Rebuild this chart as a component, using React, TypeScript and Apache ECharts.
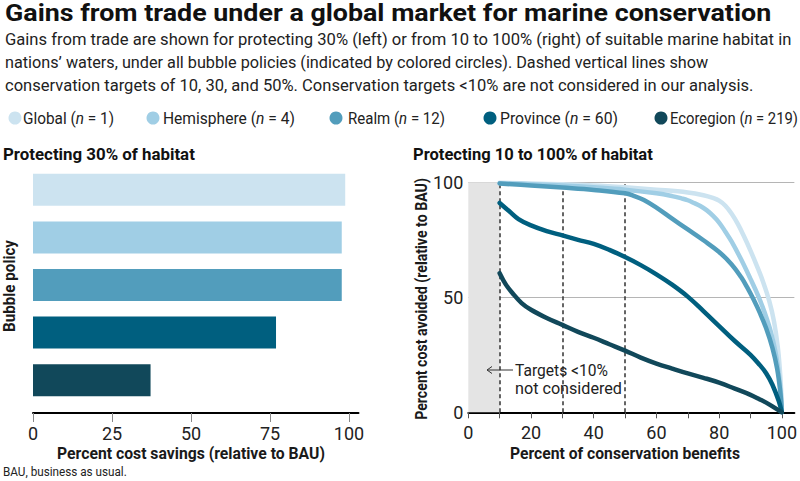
import React, { useEffect, useRef } from 'react';
import * as echarts from 'echarts';

const FONT = 'Roboto';

// Bubble policies
const policies = ['Global', 'Hemisphere', 'Realm', 'Province', 'Ecoregion'];
const policyN = [1, 4, 12, 60, 219];
const policyColors = ['#cce3f0', '#a0cee5', '#529dbc', '#005f7f', '#11485a'];

// Left panel: percent cost savings when protecting 30%
const savings30 = [98.8, 97.7, 97.7, 76.9, 37.2];
const savingsTicks = [0, 25, 50, 75, 100];

// Right panel: percent cost avoided vs. percent of conservation benefits
const globalCurve = [[10, 99.8], [20, 99.5], [30, 99.1], [40, 98.6], [50, 97.8], [60, 96.8], [70, 95.6], [75, 94.4], [78, 93.2], [80, 92], [82, 89.8], [84, 86.3], [86, 81.8], [88, 76.3], [90, 70.3], [92, 63.8], [94, 56.8], [96, 48.3], [97.5, 39.5], [98.7, 28.5], [99.4, 18], [99.8, 9], [100, 0]];
const hemisphereCurve = [[10, 99.6], [20, 99.2], [30, 98.6], [40, 97.8], [50, 96.8], [60, 95.2], [65, 94], [68, 93], [70, 92.2], [72, 91], [74, 89.7], [76, 87.9], [78, 85.5], [80, 82.5], [82, 78.5], [84, 74.2], [87, 66.5], [90, 58], [92.5, 50.5], [94.5, 43.5], [96.5, 35], [98, 26], [99, 17], [99.7, 8], [100, 0]];
const realmCurve = [[10, 99.5], [20, 98.6], [30, 97.7], [40, 96.7], [50, 95.2], [53, 94], [56, 92.3], [60, 89], [65, 84.2], [70, 79.5], [75, 74.8], [80, 69.7], [84, 64.3], [87, 58.8], [89, 54.2], [91, 49], [93, 43.2], [95, 36.5], [97, 28], [98.5, 19], [99.5, 9], [100, 0]];
const provinceCurve = [[10, 91], [13, 87.5], [16, 84], [20, 81.3], [25, 78.8], [30, 76.9], [35, 75], [40, 73.2], [45, 70.6], [50, 67.5], [55, 64], [60, 60], [65, 55.5], [70, 50.3], [75, 44], [80, 37.5], [85, 31], [90, 25], [93, 20.5], [95, 17], [97, 12], [99, 5], [100, 0]];
const ecoregionCurve = [[10, 60.5], [12, 55.5], [14, 52], [17, 47.5], [20, 44.6], [25, 41], [30, 38], [35, 35], [40, 32.4], [45, 29.6], [50, 26.8], [55, 23.8], [60, 21.2], [65, 19], [70, 16.9], [75, 15], [80, 12.9], [85, 10.3], [90, 7.6], [93, 5.6], [95, 4.2], [97, 2.6], [100, 0]];
const curves = [globalCurve, hemisphereCurve, realmCurve, provinceCurve, ecoregionCurve];

const benefitTicks = [0, 10, 20, 30, 40, 50, 60, 70, 80, 90, 100];
const benefitLabels = [0, 20, 40, 60, 80, 100];
const targets = [10, 30, 50];

const titleText = 'Gains from trade under a global market for marine conservation';
const subtitleLines = [
  'Gains from trade are shown for protecting 30% (left) or from 10 to 100% (right) of suitable marine habitat in',
  'nations\u2019 waters, under all bubble policies (indicated by colored circles). Dashed vertical lines show',
  'conservation targets of 10, 30, and 50%. Conservation targets <10% are not considered in our analysis.',
];
const subtitleWidths = [787, 704, 749];
const legendCx = [15, 153, 336, 490, 661];
const legendTx = [23, 163, 348, 500, 670];
const legendWidths = [91, 132, 97, 118, 128];

let measureCtx: CanvasRenderingContext2D | null = null;
function measure(text: string, size: number, weight = 'normal', style = 'normal') {
  if (!measureCtx) measureCtx = document.createElement('canvas').getContext('2d');
  if (!measureCtx) return text.length * size * 0.5;
  measureCtx.font = `${style} ${weight} ${size}px ${FONT}`;
  return measureCtx.measureText(text).width;
}

function fitText(
  x: number, y: number, text: string, size: number, weight: string, target: number,
  opts: any = {}
) {
  const w = measure(text, size, weight);
  return {
    type: 'text', x, y, z: 10,
    scaleX: target / w,
    rotation: opts.rotation || 0,
    style: {
      text, fontFamily: FONT, fontSize: size, fontWeight: weight,
      fill: opts.fill || '#1a1a1a',
      align: opts.align || 'left', verticalAlign: 'middle',
    },
  };
}

export default function App() {
  const ref = useRef<HTMLDivElement>(null);
  useEffect(() => {
    if (!ref.current) return;
    const chart = echarts.init(ref.current, null, { renderer: 'svg' });

    const legendEls: any[] = [];
    policies.forEach((p, i) => {
      legendEls.push({
        type: 'circle',
        shape: { cx: legendCx[i], cy: 118, r: 6.5 },
        style: { fill: policyColors[i] },
      });
      const a1 = `${p} (`;
      const a2 = ` = ${policyN[i]})`;
      const w = measure(a1, 17) + measure('n', 17, 'normal', 'italic') + measure(a2, 17);
      legendEls.push({
        type: 'text',
        x: legendTx[i],
        y: 118,
        scaleX: legendWidths[i] / w,
        style: {
          text: `{a|${a1}}{i|n}{a|${a2}}`,
          verticalAlign: 'middle',
          rich: {
            a: { fontFamily: FONT, fontSize: 17, fill: '#222' },
            i: { fontFamily: FONT, fontSize: 17, fontStyle: 'italic', fill: '#222' },
          },
        },
      });
    });

    const option: any = {
      animation: false,
      backgroundColor: '#fff',
      textStyle: { fontFamily: FONT },
      graphic: [
        fitText(5, 13, titleText, 24, 'bold', 767, { fill: '#111' }),
        ...subtitleLines.map((t, i) => fitText(5, 39 + i * 23, t, 17, 'normal', subtitleWidths[i], { fill: '#222' })),
        ...legendEls,
        fitText(3, 155, 'Protecting 30% of habitat', 16.5, 'bold', 192, { fill: '#111' }),
        fitText(413, 155, 'Protecting 10 to 100% of habitat', 16.5, 'bold', 240, { fill: '#111' }),
        fitText(3, 472, 'BAU, business as usual.', 13, 'normal', 124, { fill: '#222' }),
        fitText(191, 453, 'Percent cost savings (relative to BAU)', 17, 'bold', 268, { align: 'center' }),
        fitText(625, 453, 'Percent of conservation benefits', 17, 'bold', 230, { align: 'center' }),
        fitText(9, 286, 'Bubble policy', 17, 'bold', 92, { align: 'center', rotation: Math.PI / 2 }),
        fitText(421, 299, 'Percent cost avoided (relative to BAU)', 17, 'bold', 242, { align: 'center', rotation: Math.PI / 2 }),
        fitText(515, 370, 'Targets <10%', 17, 'normal', 93, { fill: '#222' }),
        fitText(515, 388, 'not considered', 17, 'normal', 107, { fill: '#222' }),
        {
          type: 'line', shape: { x1: 513, y1: 370, x2: 487, y2: 370 },
          style: { stroke: '#333', lineWidth: 1 }, z: 10,
        },
        {
          type: 'polyline', shape: { points: [[492, 366.5], [487, 370], [492, 373.5]] },
          style: { stroke: '#333', lineWidth: 1, fill: null }, z: 10,
        },
      ],
      grid: [
        { left: 33, top: 166, width: 325.5, height: 238 },
        { left: 468.3, top: 182.3, width: 331.2, height: 230 },
      ],
      xAxis: [
        {
          type: 'value', gridIndex: 0, min: 0, max: 103, offset: 9,
          axisLine: { show: true, lineStyle: { color: '#000', width: 2 } },
          axisTick: { show: true, customValues: savingsTicks, length: 9, lineStyle: { color: '#888', width: 1 } },
          axisLabel: { customValues: savingsTicks, fontSize: 18, color: '#222', margin: 11, fontFamily: FONT },
          splitLine: { show: false },
        },
        {
          type: 'value', gridIndex: 1, min: 0, max: 104,
          axisLine: { show: true, lineStyle: { color: '#000', width: 2 } },
          axisTick: { show: true, customValues: benefitTicks, length: 6, lineStyle: { color: '#555', width: 1 } },
          axisLabel: { customValues: benefitLabels, fontSize: 18, color: '#222', margin: 11, fontFamily: FONT },
          splitLine: { show: false },
        },
      ],
      yAxis: [
        {
          type: 'category', gridIndex: 0, data: policies, inverse: true,
          axisLine: { show: false }, axisTick: { show: false }, axisLabel: { show: false },
        },
        {
          type: 'value', gridIndex: 1, min: 0, max: 100, interval: 50,
          axisLine: { show: false }, axisTick: { show: false },
          axisLabel: { fontSize: 18, color: '#222', margin: 5, fontFamily: FONT },
          splitLine: { show: true, lineStyle: { color: '#b5b5b5', width: 1 } },
        },
      ],
      series: [
        {
          type: 'bar', xAxisIndex: 0, yAxisIndex: 0, barWidth: 32,
          data: savings30.map((v, i) => ({ value: v, itemStyle: { color: policyColors[i] } })),
          silent: true,
        },
        ...policies.map((p, i) => ({
          type: 'line', name: p, xAxisIndex: 1, yAxisIndex: 1,
          data: curves[i], showSymbol: false, symbol: 'none',
          smooth: 0.4,
          lineStyle: { color: policyColors[i], width: 4.5, cap: 'round', join: 'round' },
          silent: true,
          ...(i === 0
            ? {
                markArea: {
                  silent: true,
                  itemStyle: { color: '#e4e4e4' },
                  data: [[{ xAxis: 0 }, { xAxis: 10 }]],
                },
                markLine: {
                  silent: true, z: 1,
                  symbol: ['none', 'none'],
                  label: { show: false },
                  lineStyle: { color: '#333', type: [4, 3], width: 1.5 },
                  data: targets.map((t) => ({ xAxis: t })),
                },
              }
            : {}),
        })),
      ],
    };
    chart.setOption(option);
    return () => chart.dispose();
  }, []);
  return (
    <div
      ref={ref}
      style={{ position: 'absolute', left: 0, top: 0, width: 800, height: 481, background: '#fff' }}
    />
  );
}
